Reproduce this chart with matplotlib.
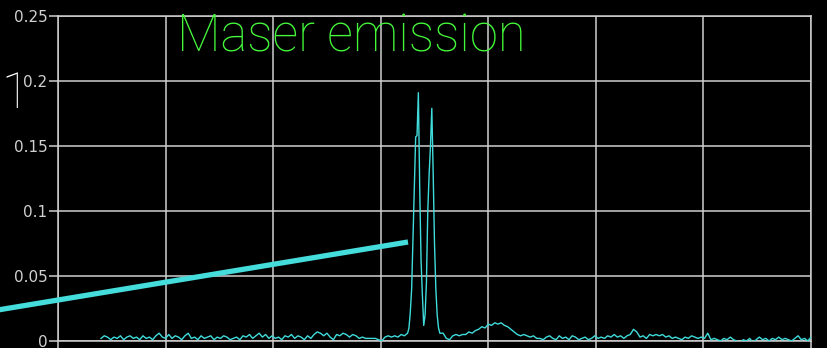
import numpy as np
import matplotlib
matplotlib.use("Agg")
import matplotlib.pyplot as plt
from matplotlib.lines import Line2D

# ---- data ----
left_start, left_step = 0.40, 0.03
left_flux = [0.002, 0.004, 0.003, 0.001, 0.003, 0.002, 0.004, 0.001, 0.003, 0.004,
             0.002, 0.003, 0.001, 0.004, 0.002, 0.003, 0.001, 0.004, 0.006, 0.003,
             0.002, 0.005, 0.002, 0.004, 0.003, 0.001, 0.004, 0.006, 0.002, 0.003,
             0.001, 0.004, 0.002, 0.003, 0.004, 0.001, 0.003, 0.002, 0.004, 0.003,
             0.001, 0.002, 0.003, 0.001, 0.004, 0.003, 0.005, 0.002, 0.004, 0.006,
             0.003, 0.005, 0.002, 0.004, 0.002, 0.003, 0.001, 0.004, 0.003, 0.005,
             0.002, 0.004, 0.003, 0.001, 0.004, 0.002, 0.005, 0.007, 0.006, 0.004,
             0.006, 0.003, 0.001, 0.005, 0.004, 0.006, 0.005, 0.003, 0.005, 0.004,
             0.002, 0.003, 0.002, 0.002, 0.002, 0.002, 0.001, 0.000, 0.003, 0.004,
             0.003, 0.004, 0.003, 0.005, 0.004]

peak_start, peak_step = 3.25, 0.0125
peak_flux = [0.006, 0.010, 0.022, 0.040, 0.078, 0.113, 0.157, 0.158, 0.191, 0.118,
             0.062, 0.035, 0.012, 0.020, 0.045, 0.100, 0.128, 0.150, 0.179, 0.130,
             0.075, 0.040, 0.020, 0.010, 0.006]

right_start, right_step = 3.58, 0.03
right_flux = [0.006, 0.002, 0.001, 0.004, 0.005, 0.004, 0.005, 0.005, 0.007, 0.006,
              0.008, 0.009, 0.011, 0.010, 0.013, 0.012, 0.014, 0.013, 0.014, 0.012,
              0.011, 0.009, 0.007, 0.005, 0.004, 0.005, 0.004, 0.003, 0.004, 0.002,
              0.002, 0.001, 0.003, 0.004, 0.002, 0.001, 0.004, 0.002, 0.003, 0.001,
              0.004, 0.003, 0.001, 0.002, 0.003, 0.001, 0.002, 0.004, 0.002, 0.003,
              0.002, 0.004, 0.003, 0.005, 0.003, 0.004, 0.002, 0.004, 0.005, 0.009,
              0.007, 0.003, 0.004, 0.002, 0.005, 0.004, 0.005, 0.004, 0.005, 0.003,
              0.004, 0.002, 0.003, 0.002, 0.001, 0.003, 0.002, 0.004, 0.003, 0.002,
              0.003, 0.002, 0.006, 0.001, 0.002, 0.001, 0.000, 0.002, 0.001, 0.003,
              0.001, 0.000, -0.001, 0.001, 0.000, 0.002, -0.001, 0.001, 0.003, 0.001,
              0.002, 0.000, 0.002, 0.001, 0.003, 0.001, 0.002, 0.001, 0.000, 0.002,
              0.004, 0.001, 0.002, 0.000, 0.003]

y_ticks = [0, 0.05, 0.1, 0.15, 0.2, 0.25]
y_labels = ["0", "0.05", "0.1", "0.15", "0.2", "0.25"]
x_grid = [0, 1, 2, 3, 4, 5, 6, 7]
title_text = "Maser emission"
side_text = "1"

# ---- build spectrum ----
x = np.concatenate([
    left_start + left_step * np.arange(len(left_flux)),
    peak_start + peak_step * np.arange(len(peak_flux)),
    right_start + right_step * np.arange(len(right_flux)),
])
y = np.array(left_flux + peak_flux + right_flux)

W, H = 827, 348
fig = plt.figure(figsize=(W / 100, H / 100), dpi=100, facecolor="black")
ax = fig.add_axes([58 / W, 7 / H, (811 - 58) / W, (341 - 16) / H], facecolor="black")

gcol = "#cfcfcf"
ax.plot(x, y, color="#40dcdc", lw=1.0, zorder=3)
ax.set_xlim(0, 7)
ax.set_ylim(0, 0.25)
ax.set_xticks(x_grid)
ax.set_yticks(y_ticks)
ax.set_yticklabels(y_labels)
ax.grid(True, color=gcol, lw=1.1)
ax.set_axisbelow(True)
for s in ax.spines.values():
    s.set_color(gcol)
    s.set_linewidth(1.1)
ax.tick_params(axis="both", colors=gcol, length=6.5, width=1.1, pad=1,
               labelsize=11, labelcolor="#d0d0d0")
ax.tick_params(axis="x", labelbottom=False)

# annotation line
fig.add_artist(Line2D([-0.01, 408 / W], [1 - 311 / H, 1 - 242 / H],
                      transform=fig.transFigure, color="#45dcdc", lw=3.8,
                      solid_capstyle="butt", zorder=10))

fig.text(177 / W, 1 - 51 / H, title_text, color="#44f83a", fontsize=36.5,
         family="Roboto", fontweight="light", ha="left", va="baseline")
fig.text(1 / W, 1 - 108 / H, side_text, color="white", fontsize=36,
         family="Roboto", fontweight="light", ha="left", va="baseline")

fig.savefig("out.png", dpi=100, facecolor="black")
